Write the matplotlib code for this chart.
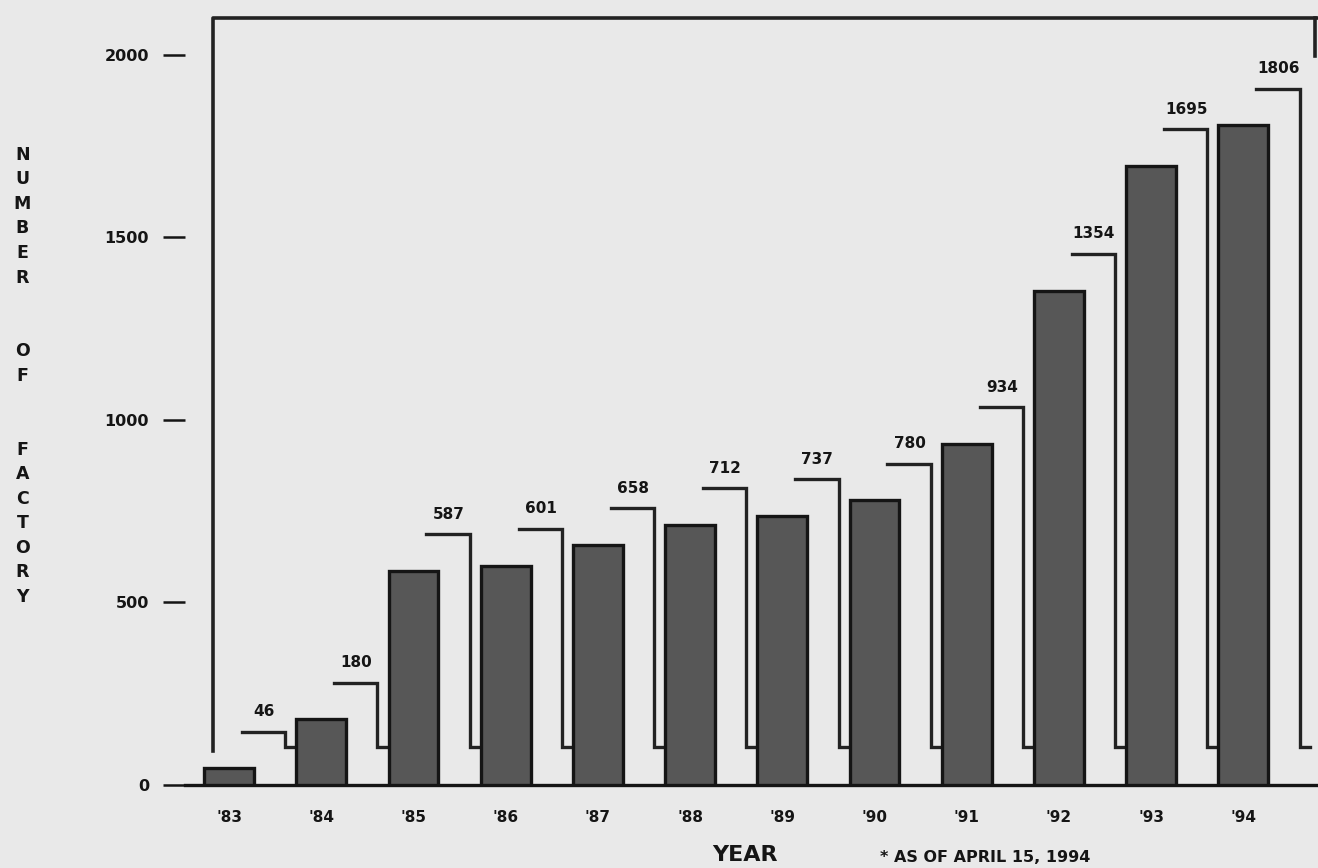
import numpy as np
import matplotlib.pyplot as plt

# Data: -
years = ["'83", "'84", "'85", "'86", "'87", "'88", "'89", "'90", "'91", "'92", "'93", "'94"]
factories = [46, 180, 587, 601, 658, 712, 737, 780, 934, 1354, 1695, 1806]

plt.rcParams['font.family'] = ['DejaVu Sans']
bg = '#e9e9e9'
ink = '#151515'

fig = plt.figure(figsize=(13.18, 8.68), dpi=100, facecolor=bg)
ax = fig.add_axes([0.1404, 0.0956, 0.8596, 0.8836], facecolor=bg)

x = np.arange(len(years))
ax.bar(x, factories, width=0.54, color='#575757', edgecolor=ink, linewidth=2.4, zorder=3)

# value labels with bracket leaders: -
for xi, v in zip(x, factories):
    ax.text(xi + 0.38, v + 155, str(v), ha='center', va='center',
            fontsize=11, fontweight='bold', color=ink)
    ax.plot([xi + 0.14, xi + 0.61, xi + 0.61, xi + 0.72],
            [v + 100, v + 100, 105, 105], color='#222222', lw=2.4,
            solid_joinstyle='miter', zorder=2)

ax.set_xlim(-0.477, 11.81)
ax.set_ylim(0, 2100)
ax.set_xticks(x)
ax.set_xticklabels(years, fontsize=11, fontweight='bold', color=ink)
ax.set_yticks([0, 500, 1000, 1500, 2000])
ax.set_yticklabels(['0', '500', '1000', '1500', '2000'], fontsize=11.5,
                   fontweight='bold', color=ink)
ax.tick_params(axis='x', length=0, pad=18)
ax.tick_params(axis='y', length=16, width=1.8, pad=10, color=ink)

for s in ['top', 'right', 'left']:
    ax.spines[s].set_visible(False)
ax.spines['bottom'].set_linewidth(2.4)
ax.spines['bottom'].set_color(ink)

# frame lines of the scanned chart: -
ax.plot([0.025, 0.025, 1.0], [0.045, 1.0, 1.0], transform=ax.transAxes,
        color='#222222', lw=2.6, clip_on=False)
ax.plot([0.997, 0.997], [0.95, 1.0], transform=ax.transAxes,
        color='#222222', lw=2.6, clip_on=False)

# stacked vertical y label: -
label = 'NUMBER  OF  FACTORY'
fig.text(0.017, 0.567, '\n'.join(label), ha='center', va='center',
         fontsize=12.5, fontweight='bold', linespacing=1.47, color=ink)

fig.text(0.565, 0.004, 'YEAR', ha='center', va='bottom', fontsize=16,
         fontweight='bold', color=ink)
fig.text(0.668, 0.004, '* AS OF APRIL 15, 1994', ha='left', va='bottom', fontsize=11.5,
         fontweight='bold', color=ink)

plt.savefig('out.png', dpi=100, facecolor=bg)
